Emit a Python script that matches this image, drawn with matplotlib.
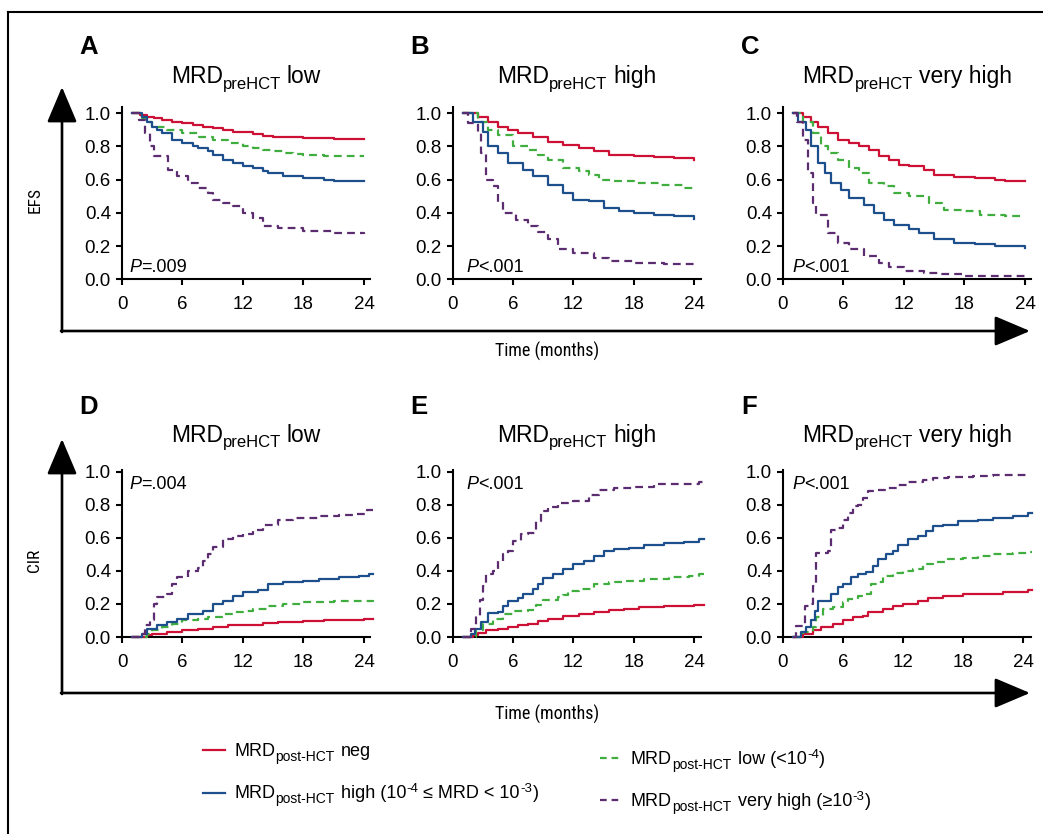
import numpy as np
import matplotlib
matplotlib.use("Agg")
import matplotlib.pyplot as plt
from matplotlib import font_manager
from matplotlib.lines import Line2D
from matplotlib.patches import FancyArrowPatch

# ---------------- data ----------------
groups = ["neg", "low", "high", "very high"]
xticks = [0, 6, 12, 18, 24]
yticks = [0.0, 0.2, 0.4, 0.6, 0.8, 1.0]
panel_titles = ["low", "high", "very high"]
panel_letters_top = ["A", "B", "C"]
panel_letters_bot = ["D", "E", "F"]
pvals_top = ["=.009", "<.001", "<.001"]
pvals_bot = ["=.004", "<.001", "<.001"]

# EFS, MRD preHCT low (panel A)
A_neg_t = [1, 1.8, 2.5, 3.2, 4, 5, 6, 7, 8, 9, 10, 11, 12, 13, 14, 15, 16, 18, 20, 21, 24]
A_neg = [1, 0.99, 0.98, 0.97, 0.96, 0.95, 0.94, 0.93, 0.92, 0.91, 0.90, 0.89, 0.885, 0.875, 0.865, 0.86, 0.86, 0.85, 0.85, 0.845, 0.845]
A_low_t = [1, 2, 2.5, 3, 4.5, 6, 7.5, 9, 10.5, 12, 13, 14, 15, 16, 17, 18, 20, 24]
A_low = [1, 0.97, 0.95, 0.92, 0.90, 0.88, 0.86, 0.84, 0.82, 0.80, 0.79, 0.78, 0.77, 0.76, 0.755, 0.75, 0.74, 0.74]
A_high_t = [1, 2, 2.5, 3, 3.5, 4, 5, 6, 7, 7.5, 8.5, 9, 10, 11, 12, 13, 14, 14.5, 16, 18, 20, 21, 24]
A_high = [1, 0.98, 0.95, 0.92, 0.90, 0.88, 0.84, 0.82, 0.80, 0.79, 0.77, 0.75, 0.72, 0.70, 0.68, 0.67, 0.65, 0.64, 0.62, 0.61, 0.60, 0.59, 0.59]
A_vhigh_t = [1, 1.7, 2.3, 2.8, 3.2, 4.6, 5.5, 6.5, 7.5, 8.5, 9, 10, 11, 12, 13, 14, 15.5, 18, 21, 24]
A_vhigh = [1, 0.96, 0.88, 0.80, 0.74, 0.66, 0.62, 0.58, 0.55, 0.52, 0.48, 0.46, 0.44, 0.40, 0.37, 0.32, 0.31, 0.29, 0.28, 0.27]

# EFS, MRD preHCT high (panel B)
B_neg_t = [1, 2.5, 3.5, 4.5, 5.5, 6.5, 8, 9.5, 11, 12.5, 14, 15.5, 18, 20, 22, 24]
B_neg = [1, 0.98, 0.95, 0.92, 0.90, 0.88, 0.86, 0.83, 0.81, 0.79, 0.77, 0.75, 0.745, 0.735, 0.73, 0.72]
B_low_t = [1, 2.5, 3.5, 4.5, 6, 7.5, 8.5, 9.5, 11, 12.5, 13.5, 14.5, 16, 18, 20.5, 23, 24]
B_low = [1, 0.95, 0.90, 0.87, 0.80, 0.78, 0.75, 0.72, 0.67, 0.65, 0.63, 0.60, 0.59, 0.578, 0.566, 0.55, 0.55]
B_high_t = [1, 2, 3, 3.5, 4.5, 5.5, 7, 8, 9.5, 11, 12, 13.5, 15, 16.5, 18, 20, 22, 24]
B_high = [1, 0.95, 0.89, 0.80, 0.76, 0.70, 0.66, 0.62, 0.57, 0.52, 0.48, 0.47, 0.43, 0.41, 0.40, 0.385, 0.38, 0.365]
B_vhigh_t = [1, 1.5, 2.5, 2.8, 3.3, 4, 4.5, 5, 6.3, 7.5, 8.5, 9.5, 10.5, 12, 14, 15.5, 18, 21, 24]
B_vhigh = [1, 0.94, 0.88, 0.76, 0.60, 0.56, 0.46, 0.40, 0.36, 0.32, 0.285, 0.24, 0.185, 0.16, 0.13, 0.11, 0.10, 0.09, 0.08]

# EFS, MRD preHCT very high (panel C)
C_neg_t = [1, 2, 2.8, 3.5, 4.5, 5.5, 6.5, 7.5, 8.5, 9.5, 10.5, 11.5, 12.5, 14, 15, 17, 19, 21, 22, 24]
C_neg = [1, 0.98, 0.95, 0.92, 0.88, 0.84, 0.82, 0.80, 0.78, 0.74, 0.72, 0.69, 0.68, 0.66, 0.63, 0.617, 0.609, 0.60, 0.59, 0.59]
C_low_t = [1, 2, 3, 3.8, 4.5, 5.5, 6.5, 7.5, 8.5, 10, 11, 12.5, 14.5, 16, 18, 19.5, 22, 24]
C_low = [1, 0.95, 0.88, 0.80, 0.76, 0.72, 0.67, 0.64, 0.58, 0.56, 0.52, 0.50, 0.46, 0.42, 0.41, 0.39, 0.383, 0.383]
C_high_t = [1, 1.5, 2.3, 2.8, 3.5, 4.2, 4.8, 5.8, 6.5, 8, 9, 10, 11, 12.5, 13.5, 15, 17, 19, 21, 24]
C_high = [1, 0.95, 0.90, 0.80, 0.70, 0.64, 0.58, 0.54, 0.49, 0.45, 0.40, 0.36, 0.33, 0.30, 0.28, 0.24, 0.22, 0.21, 0.20, 0.19]
C_vhigh_t = [1, 1.4, 2, 2.5, 3, 3.3, 4.5, 5.5, 6.5, 8, 9.5, 10.5, 12, 14, 15.5, 18, 24]
C_vhigh = [1, 0.95, 0.84, 0.64, 0.46, 0.39, 0.28, 0.22, 0.18, 0.14, 0.10, 0.077, 0.05, 0.04, 0.03, 0.02, 0.02]

# CIR, MRD preHCT low (panel D)
D_neg_t = [1, 1.5, 2.5, 3, 4.5, 6, 7.5, 9, 10.5, 12, 14, 15.5, 18, 20, 22, 24, 24.9]
D_neg = [0, 0, 0.01, 0.02, 0.03, 0.04, 0.05, 0.06, 0.07, 0.075, 0.087, 0.09, 0.097, 0.10, 0.105, 0.11, 0.11]
D_low_t = [1, 1.8, 2.5, 3, 4, 5, 6, 7.5, 8.5, 10, 11, 12, 13, 14.5, 16, 18, 21, 23, 24.9]
D_low = [0, 0, 0.02, 0.04, 0.06, 0.08, 0.10, 0.11, 0.12, 0.137, 0.15, 0.16, 0.17, 0.19, 0.20, 0.21, 0.215, 0.22, 0.225]
D_high_t = [1, 1.2, 2, 2.5, 3.5, 4.5, 5.5, 6.5, 8, 9, 10, 11, 12, 13.5, 14.5, 16, 18, 19.5, 21.5, 23.5, 24.5, 24.9]
D_high = [0, 0, 0.02, 0.05, 0.07, 0.09, 0.11, 0.14, 0.16, 0.20, 0.22, 0.25, 0.27, 0.287, 0.32, 0.33, 0.34, 0.35, 0.36, 0.37, 0.378, 0.378]
D_vhigh_t = [1, 1.7, 2.3, 2.8, 3.2, 3.5, 4.5, 5, 5.5, 6.5, 7.5, 8, 8.5, 9, 10, 11, 12, 13, 14, 15.5, 17, 19.5, 21.5, 23, 24.3, 24.9]
D_vhigh = [0, 0.02, 0.07, 0.10, 0.20, 0.24, 0.26, 0.32, 0.36, 0.40, 0.42, 0.46, 0.50, 0.545, 0.59, 0.61, 0.62, 0.645, 0.68, 0.71, 0.72, 0.73, 0.74, 0.745, 0.77, 0.77]

# CIR, MRD preHCT high (panel E)
E_neg_t = [1, 1.5, 2, 2.5, 3.3, 4.5, 5.5, 6.5, 7.5, 8.5, 9.5, 11, 12.5, 14, 15.5, 17, 18.5, 21, 24, 24.9]
E_neg = [0, 0, 0.01, 0.024, 0.04, 0.05, 0.06, 0.07, 0.08, 0.095, 0.11, 0.125, 0.14, 0.153, 0.165, 0.17, 0.18, 0.19, 0.195, 0.195]
E_low_t = [1, 1.8, 2.3, 3, 4, 5, 6, 7.5, 8.3, 9, 10.5, 11, 11.5, 12.5, 14, 15.5, 17, 19, 21.5, 23.5, 24.5, 24.9]
E_low = [0, 0, 0.04, 0.08, 0.11, 0.14, 0.155, 0.165, 0.195, 0.225, 0.24, 0.255, 0.28, 0.29, 0.32, 0.33, 0.34, 0.35, 0.36, 0.37, 0.38, 0.38]
E_high_t = [1, 1.3, 1.8, 2.2, 2.8, 3.5, 4.5, 5, 5.5, 6.5, 7, 8, 8.5, 9, 10, 11, 12, 13, 14, 15, 16, 17.5, 19, 21, 23, 24.5, 24.9]
E_high = [0, 0, 0.02, 0.05, 0.09, 0.145, 0.15, 0.19, 0.215, 0.235, 0.26, 0.29, 0.32, 0.355, 0.38, 0.41, 0.44, 0.46, 0.49, 0.52, 0.53, 0.54, 0.555, 0.567, 0.577, 0.59, 0.59]
E_vhigh_t = [1, 1.8, 2.3, 2.7, 3.0, 3.3, 4, 4.5, 5, 5.5, 6, 6.8, 7.5, 8.3, 8.8, 9.5, 10.5, 12, 13.5, 14.5, 16, 18, 20, 22, 24.5, 24.9]
E_vhigh = [0, 0.05, 0.125, 0.225, 0.31, 0.38, 0.40, 0.46, 0.50, 0.52, 0.58, 0.62, 0.63, 0.70, 0.765, 0.785, 0.81, 0.825, 0.86, 0.89, 0.90, 0.91, 0.924, 0.925, 0.935, 0.935]

# CIR, MRD preHCT very high (panel F)
F_neg_t = [1, 1.2, 2, 3, 3.8, 5, 6, 7, 8, 8.5, 10, 11, 12, 13.5, 14.5, 16, 18, 19.5, 22, 24.5, 24.9]
F_neg = [0, 0, 0.02, 0.04, 0.06, 0.08, 0.105, 0.12, 0.13, 0.15, 0.17, 0.19, 0.20, 0.22, 0.235, 0.245, 0.26, 0.262, 0.27, 0.285, 0.285]
F_low_t = [1, 1.5, 2, 3, 3.3, 4, 5, 6, 6.5, 7.5, 8.3, 8.8, 9.5, 10, 11, 12, 13, 14, 15, 16.5, 18, 19.5, 21, 23, 24.5, 24.9]
F_low = [0, 0, 0.03, 0.06, 0.12, 0.17, 0.18, 0.21, 0.23, 0.25, 0.26, 0.32, 0.33, 0.37, 0.39, 0.40, 0.41, 0.44, 0.455, 0.47, 0.48, 0.49, 0.50, 0.51, 0.517, 0.517]
F_high_t = [1, 1.2, 1.8, 2.3, 2.8, 3.2, 3.5, 4.3, 4.8, 5.5, 6, 6.8, 7.5, 8.3, 9, 9.5, 10.3, 11, 11.5, 12.5, 13.5, 14.3, 15, 16, 17.5, 19.5, 21, 23, 24.5, 24.9]
F_high = [0, 0, 0.03, 0.06, 0.105, 0.155, 0.215, 0.22, 0.26, 0.30, 0.32, 0.36, 0.38, 0.395, 0.43, 0.47, 0.50, 0.52, 0.557, 0.59, 0.61, 0.64, 0.67, 0.68, 0.70, 0.71, 0.72, 0.73, 0.75, 0.75]
F_vhigh_t = [1, 1.3, 2.2, 2.8, 3, 3.3, 4.5, 4.8, 5.5, 6, 6.5, 7, 7.5, 8, 8.5, 9.5, 10.5, 11.5, 12.5, 14, 15, 16.5, 19, 21, 24.5]
F_vhigh = [0, 0.065, 0.185, 0.20, 0.31, 0.51, 0.52, 0.65, 0.66, 0.71, 0.75, 0.79, 0.80, 0.84, 0.88, 0.89, 0.90, 0.92, 0.94, 0.95, 0.96, 0.97, 0.975, 0.98, 0.985]

# ---------------- style ----------------
W, H = 1043, 834
colors = {"neg": "#CC1036", "low": "#3FAE3F", "high": "#1C4F8B", "very high": "#5B2C6F"}
dashed = {"neg": False, "low": True, "high": False, "very high": True}

names = {f.name for f in font_manager.fontManager.ttflist}
MAIN = "Liberation Sans" if "Liberation Sans" in names else "DejaVu Sans"
NARROW = None
for cand in ["Liberation Sans Narrow", "DejaVu Sans Condensed", "Roboto Condensed", "Open Sans Condensed"]:
    if cand in names:
        NARROW = cand
        break
narrow_kw = {"family": NARROW} if NARROW else {"family": MAIN, "stretch": "condensed"}

plt.rcParams["font.family"] = [MAIN, "DejaVu Sans"]

fig = plt.figure(figsize=(W / 100, H / 100), dpi=100)
renderer = fig.canvas.get_renderer()


def rect(left_px, bottom_px, width_px, height_px):
    return [left_px / W, 1 - bottom_px / H, width_px / W, height_px / H]


def rich(x_px, y_px, pieces, ha="left"):
    """pieces: (text, size, dy_px (up positive), gap_before_px, italic). y_px = baseline from top."""
    arts = []
    x = 0.0
    for s, size, dy, gap, ital in pieces:
        x += gap
        t = fig.text(0, 0, s, fontsize=size, style="italic" if ital else "normal",
                     ha="left", va="baseline")
        w = t.get_window_extent(renderer).width
        arts.append((t, x, dy))
        x += w
    total = x
    x0 = x_px - (total / 2 if ha == "center" else 0)
    for t, xo, dy in arts:
        t.set_position(((x0 + xo) / W, 1 - (y_px - dy) / H))
    return arts


lefts = [122, 452.5, 783]
top_data = {
    0: [(A_neg_t, A_neg), (A_low_t, A_low), (A_high_t, A_high), (A_vhigh_t, A_vhigh)],
    1: [(B_neg_t, B_neg), (B_low_t, B_low), (B_high_t, B_high), (B_vhigh_t, B_vhigh)],
    2: [(C_neg_t, C_neg), (C_low_t, C_low), (C_high_t, C_high), (C_vhigh_t, C_vhigh)],
}
bot_data = {
    0: [(D_neg_t, D_neg), (D_low_t, D_low), (D_high_t, D_high), (D_vhigh_t, D_vhigh)],
    1: [(E_neg_t, E_neg), (E_low_t, E_low), (E_high_t, E_high), (E_vhigh_t, E_vhigh)],
    2: [(F_neg_t, F_neg), (F_low_t, F_low), (F_high_t, F_high), (F_vhigh_t, F_vhigh)],
}


def style_ax(ax, ytop, xr):
    ax.set_xlim(0, xr)
    ax.set_ylim(0, ytop)
    for s in ["top", "right"]:
        ax.spines[s].set_visible(False)
    for s in ["left", "bottom"]:
        ax.spines[s].set_linewidth(1.5)
    ax.set_xticks(xticks)
    ax.set_yticks(yticks)
    ax.set_yticklabels([f"{v:.1f}" for v in yticks])
    ax.tick_params(axis="both", direction="out", length=4, width=1.5, labelsize=13.5)
    ax.tick_params(axis="x", pad=8)
    ax.tick_params(axis="y", pad=4)
    ax.patch.set_alpha(0)


def draw_curves(ax, curves):
    for g, (t, v) in zip(groups, curves):
        line, = ax.step(t, v, color=colors[g], lw=1.6, where="post", clip_on=False, zorder=3)
        if dashed[g]:
            line.set_dashes((3.5, 2.3))


TITLE = 16.5
TSUB = 12
p_top_x = [129, 466, 792]
for i in range(3):
    # top row
    ax = fig.add_axes(rect(lefts[i], 279.3, 248, 172))
    style_ax(ax, 1.036, 24.6)
    draw_curves(ax, top_data[i])
    cx = lefts[i] + 124
    rich(cx, 83, [("MRD", TITLE, 0, 0, False), ("preHCT", TSUB, -5.5, 0.5, False),
                  (panel_titles[i], TITLE, 0, 5.5, False)], ha="center")
    rich(p_top_x[i], 271.5, [("P", 13, 0, 0, True), (pvals_top[i], 13, 0, 0, False)])
    # bottom row
    ax2 = fig.add_axes(rect(lefts[i], 637, 248, 167))
    style_ax(ax2, 1.01, 24.6 if i < 2 else 24.8)
    draw_curves(ax2, bot_data[i])
    rich(cx, 442, [("MRD", TITLE, 0, 0, False), ("preHCT", TSUB, -5.5, 0.5, False),
                   (panel_titles[i], TITLE, 0, 5.5, False)], ha="center")
    rich(p_top_x[i], 489, [("P", 13, 0, 0, True), (pvals_bot[i], 13, 0, 0, False)])

# panel letters
letter_x = [79, 410, 741]
for i in range(3):
    fig.text(letter_x[i] / W, 1 - 47 / H, panel_letters_top[i], fontsize=18.5, fontweight="bold",
             ha="left", va="center")
    fig.text(letter_x[i] / W, 1 - 407 / H, panel_letters_bot[i], fontsize=18.5, fontweight="bold",
             ha="left", va="center")


# big arrows
def arrow(x0, y0, x1, y1):
    a = FancyArrowPatch((x0 / W, 1 - y0 / H), (x1 / W, 1 - y1 / H), transform=fig.transFigure,
                        arrowstyle="-|>,head_length=1.3,head_width=0.55", mutation_scale=17,
                        lw=1.9, color="black", shrinkA=0, shrinkB=0)
    fig.add_artist(a)


arrow(62, 332, 62, 87)
arrow(61, 331, 1030, 331)
arrow(62, 694, 62, 439)
arrow(61, 693, 1030, 693)

# axis labels
fig.text(35 / W, 1 - 200 / H, "EFS", rotation=90, ha="center", va="center", fontsize=12.5, **narrow_kw)
fig.text(35 / W, 1 - 560 / H, "CIR", rotation=90, ha="center", va="center", fontsize=12.5, **narrow_kw)
fig.text(547 / W, 1 - 351 / H, "Time (months)", ha="center", va="center", fontsize=13, **narrow_kw)
fig.text(547 / W, 1 - 714 / H, "Time (months)", ha="center", va="center", fontsize=13, **narrow_kw)

# frame
fig.add_artist(Line2D([8 / W, 8 / W], [0, 1 - 12 / H], transform=fig.transFigure, color="black", lw=1.5))
fig.add_artist(Line2D([8 / W, 1], [1 - 12 / H, 1 - 12 / H], transform=fig.transFigure, color="black", lw=1.5))

# legend
LS, LSUB, LSUP = 13, 10, 9.5
legend_items = [
    ("neg", 203, 750, [("MRD", LS, 0, 0, False), ("post-HCT", LSUB, -5, 0.5, False),
                       ("neg", LS, 0, 6, False)]),
    ("high", 203, 793, [("MRD", LS, 0, 0, False), ("post-HCT", LSUB, -5, 0.5, False),
                        ("high (10", LS, 0, 6, False), ("-4", LSUP, 6, 0.3, False),
                        ("\u2264 MRD < 10", LS, 0, 5, False), ("-3", LSUP, 6, 0.3, False),
                        (")", LS, 0, 0.5, False)]),
    ("low", 600, 758, [("MRD", LS, 0, 0, False), ("post-HCT", LSUB, -5, 0.5, False),
                       ("low (<10", LS, 0, 6, False), ("-4", LSUP, 6, 0.3, False),
                       (")", LS, 0, 0.5, False)]),
    ("very high", 600, 800, [("MRD", LS, 0, 0, False), ("post-HCT", LSUB, -5, 0.5, False),
                             ("very high (\u226510", LS, 0, 6, False), ("-3", LSUP, 6, 0.3, False),
                             (")", LS, 0, 0.5, False)]),
]
for g, x0, y0, pieces in legend_items:
    ln = Line2D([x0 / W, (x0 + 22) / W], [1 - y0 / H, 1 - y0 / H], transform=fig.transFigure,
                color=colors[g], lw=1.6)
    if dashed[g]:
        ln.set_dashes((3.0, 2.2))
    fig.add_artist(ln)
    rich(x0 + 31, y0 + 5.5, pieces)

fig.savefig("out.png", dpi=100)
